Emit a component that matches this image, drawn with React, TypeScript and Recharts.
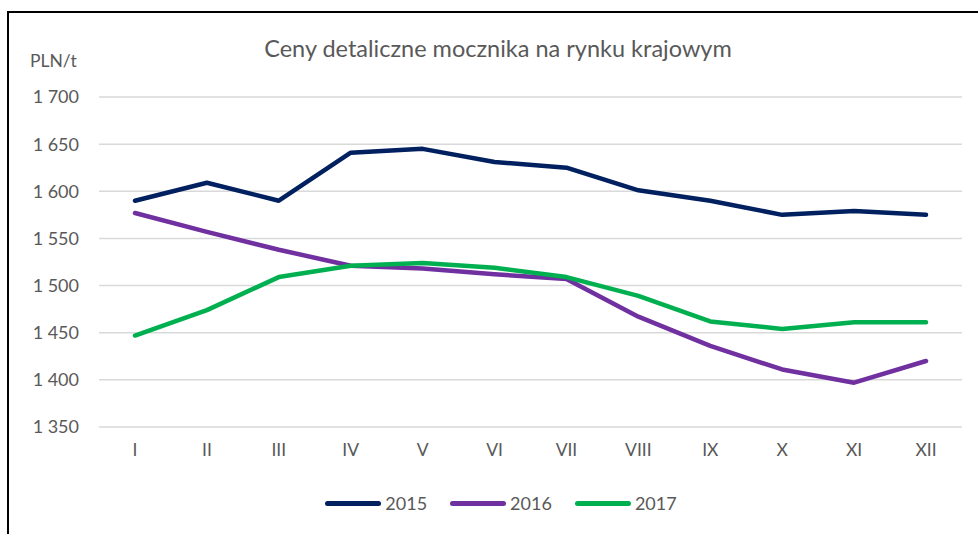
import React from 'react';
import { LineChart, Line, XAxis, YAxis, CartesianGrid, Legend } from 'recharts';

const months = ['I', 'II', 'III', 'IV', 'V', 'VI', 'VII', 'VIII', 'IX', 'X', 'XI', 'XII'];
const prices2015 = [1590, 1609, 1590, 1641, 1645, 1631, 1625, 1601, 1590, 1575, 1579, 1575];
const prices2016 = [1577, 1557, 1538, 1521, 1518, 1512, 1507, 1467, 1436, 1411, 1397, 1420];
const prices2017 = [1447, 1474, 1509, 1521, 1524, 1519, 1509, 1489, 1462, 1454, 1461, 1461];
const yTicks = [1350, 1400, 1450, 1500, 1550, 1600, 1650, 1700];

const series = [
  { key: '2015', color: '#002060' },
  { key: '2016', color: '#7030A0' },
  { key: '2017', color: '#00B050' },
];

const data = months.map((m, i) => ({
  month: m,
  '2015': prices2015[i],
  '2016': prices2016[i],
  '2017': prices2017[i],
}));

const FONT = 'Lato, "Open Sans", sans-serif';
const TEXT = '#595959';

const fmt = (v: number) => {
  const s = String(v);
  return s.length > 3 ? s.slice(0, s.length - 3) + ' ' + s.slice(-3) : s;
};

const LegendContent = () => (
  <div style={{ display: 'flex', justifyContent: 'center', alignItems: 'center', height: 30, paddingLeft: 63 }}>
    {series.map((s) => (
      <div key={s.key} style={{ display: 'flex', alignItems: 'center', marginRight: 23 }}>
        <div style={{ width: 56, height: 5, borderRadius: 3, background: s.color, marginRight: 4 }} />
        <span style={{ fontFamily: FONT, fontSize: 18, color: TEXT }}>{s.key}</span>
      </div>
    ))}
  </div>
);

export default function App() {
  return (
    <div style={{ position: 'absolute', left: 0, top: 0, width: 978, height: 534, background: '#fff', overflow: 'hidden' }}>
      <div
        style={{
          position: 'absolute',
          left: 7,
          top: 11,
          width: 980,
          height: 540,
          borderTop: '2px solid #000',
          borderLeft: '2px solid #000',
        }}
      />
      <div
        style={{
          position: 'absolute',
          left: 0,
          width: 996,
          top: 34,
          textAlign: 'center',
          fontFamily: FONT,
          fontSize: 23.5,
          color: TEXT,
        }}
      >
        Ceny detaliczne mocznika na rynku krajowym
      </div>
      <div style={{ position: 'absolute', left: 30, top: 50, fontFamily: FONT, fontSize: 17.5, color: TEXT }}>
        PLN/t
      </div>
      <LineChart
        width={978}
        height={534}
        data={data}
        margin={{ top: 97, right: 16, left: 0, bottom: 16 }}
      >
        <CartesianGrid horizontal vertical={false} stroke="#d9d9d9" strokeWidth={1.5} />
        <XAxis
          dataKey="month"
          axisLine={false}
          tickLine={false}
          tickSize={0}
          tickMargin={17}
          height={61}
          padding={{ left: 36, right: 36 }}
          tick={{ fill: TEXT, fontSize: 17.5, fontFamily: FONT }}
        />
        <YAxis
          domain={[1350, 1700]}
          ticks={yTicks}
          width={99}
          axisLine={false}
          tickLine={false}
          tickSize={0}
          tickMargin={20}
          tickFormatter={fmt}
          tick={{ fill: TEXT, fontSize: 18, fontFamily: FONT }}
        />
        <Legend verticalAlign="bottom" height={30} content={<LegendContent />} />
        {series.map((s) => (
          <Line
            key={s.key}
            type="linear"
            dataKey={s.key}
            stroke={s.color}
            strokeWidth={4.5}
            strokeLinecap="round"
            strokeLinejoin="round"
            dot={false}
            activeDot={false}
            isAnimationActive={false}
          />
        ))}
      </LineChart>
    </div>
  );
}
